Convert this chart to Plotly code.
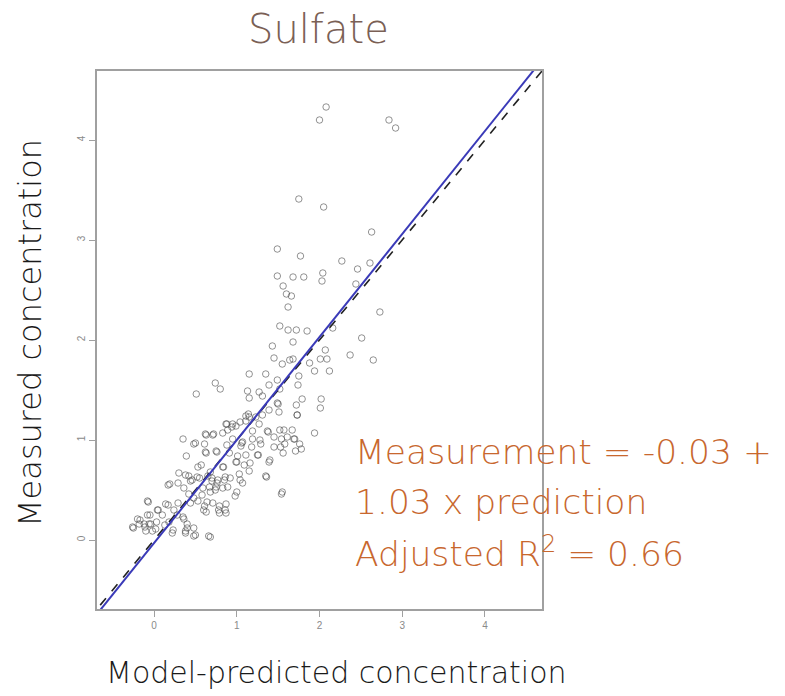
import plotly.graph_objects as go

# Model-predicted (x) and measured (y) sulfate concentrations
pred = [2.08, 2.00, 2.84, 2.92, 1.75, 2.05, 2.63, 1.49, 1.77, 2.27, 2.46, 2.61, 1.49, 1.68, 1.81, 2.04, 2.03,
        2.44, 1.56, 1.60, 1.66, 1.62, 2.73, 1.52, 1.62, 1.72, 1.85, 2.16, 1.68, 1.43, 2.51, 2.07, 1.45, 1.55,
        1.64, 1.68, 1.88, 2.01, 2.09, 2.37, 2.65, 1.15, 1.35, 1.75, 1.94, 2.12, 1.74, 0.74, 0.80, 0.51, 1.13,
        1.15, 1.27, 1.31, 1.39, 1.49, 1.52, 1.79, 1.72, 2.02, 2.01, 1.73, 1.49, 1.51, 1.39, 1.11, 1.15, 1.23,
        1.31, 1.11, 0.87, 0.95, 0.99, 0.89, 1.27, 1.19, 1.37, 1.52, 1.67, 1.94, 0.63, 0.71, 0.83, 0.35, 0.48,
        0.61, 0.95, 1.07, 1.05, 1.19, 1.29, 1.45, 1.54, 1.61, 1.70, 1.76, 1.78, 1.71, 0.75, 0.63, 0.39, 0.53,
        0.57, 0.91, 1.01, 1.11, 1.25, 1.39, 1.56, 1.45, 1.58, 0.83, 0.99, 1.09, 1.15, 1.03, 0.19, 0.30, 0.42,
        0.44, 0.55, 0.65, 0.70, 0.77, 0.85, 1.35, 1.54, 0.29, 0.36, 0.42, 0.59, 0.67, 0.75, 0.83, 0.89, 0.98,
        1.07, -0.08, 0.04, 0.14, 0.24, 0.28, 0.44, 0.53, 0.61, 0.63, 0.71, 0.79, 0.87, -0.26, -0.20, -0.18,
        -0.08, -0.06, -0.02, -0.04, 0.10, 0.18, 0.36, 0.40, 0.38, 0.48, 0.22, 0.38, 0.48, 0.66, 0.79, 0.87,
        -0.10, 0.02, -0.12,
        -0.07, 0.17, 0.05, -0.05, -0.17, -0.25, -0.11, 0.03, 0.17, 0.29, 0.35, 0.40, 0.50, 0.68, 0.38, 0.46,
        0.60, 0.64, 0.74, 0.78, 0.86, 0.86, 0.70, 0.58, 0.48, 0.23, 0.13,
        0.62, 0.72, 0.88, 0.94, 1.04, 1.14, 0.50, 0.62, 0.76, 0.88, 1.06, 1.18, 1.28, 1.38, 1.50, 1.73, 1.57,
        1.69, 1.53, 1.40, 1.26, 1.16, 1.00, 0.84, 0.68, 0.52, 0.76, 0.92, 1.04, 1.36, 1.55, 1.00, 0.68]
meas = [4.33, 4.20, 4.20, 4.12, 3.41, 3.33, 3.08, 2.91, 2.84, 2.79, 2.71, 2.77, 2.64, 2.63, 2.63, 2.67, 2.59,
        2.56, 2.54, 2.46, 2.44, 2.33, 2.28, 2.14, 2.10, 2.10, 2.09, 2.12, 1.98, 1.94, 2.02, 1.90, 1.82, 1.76,
        1.80, 1.81, 1.77, 1.81, 1.81, 1.85, 1.80, 1.66, 1.66, 1.64, 1.69, 1.69, 1.55, 1.57, 1.51, 1.46, 1.49,
        1.42, 1.48, 1.44, 1.55, 1.60, 1.51, 1.41, 1.35, 1.41, 1.32, 1.25, 1.37, 1.28, 1.30, 1.24, 1.23, 1.23,
        1.25, 1.19, 1.16, 1.16, 1.14, 1.10, 1.16, 1.09, 1.09, 1.10, 1.10, 1.07, 1.05, 1.05, 1.07, 1.01, 0.96,
        0.96, 1.01, 0.98, 0.94, 1.01, 0.96, 1.03, 1.01, 1.03, 1.01, 0.96, 0.91, 0.89, 0.89, 0.87, 0.84, 0.73,
        0.75, 0.87, 0.84, 0.85, 0.85, 0.78, 0.87, 0.93, 0.96, 0.73, 0.78, 0.75, 0.69, 0.66, 0.56, 0.67, 0.64,
        0.59, 0.62, 0.64, 0.59, 0.60, 0.60, 0.64, 0.46, 0.57, 0.52, 0.46, 0.52, 0.53, 0.53, 0.52, 0.53, 0.44,
        0.57, 0.39, 0.30, 0.36, 0.30, 0.25, 0.37, 0.39, 0.34, 0.28, 0.37, 0.34, 0.36, 0.13, 0.21, 0.16,
        0.25, 0.16, 0.09, 0.16, 0.25, 0.18, 0.21, 0.16, 0.09, 0.12, 0.07, 0.07, 0.04, 0.04, 0.27, 0.27,
        0.09, 0.11, 0.16,
        0.38, 0.55, 0.30, 0.25, 0.20, 0.12, 0.13, 0.18, 0.35, 0.37, 0.23, 0.12, 0.05, 0.03, 0.65, 0.60,
        0.30, 0.38, 0.50, 0.30, 0.30, 0.63, 0.62, 0.45, 0.42, 0.10, 0.15,
        1.06, 1.06, 1.16, 1.13, 1.18, 1.26, 0.97, 0.88, 0.88, 0.95, 0.97, 0.93, 1.00, 1.08, 1.36, 1.25, 1.10,
        1.01, 0.93, 0.80, 0.85, 0.77, 0.78, 0.73, 0.68, 0.63, 0.57, 0.62, 0.60, 0.63, 0.48, 0.48, 0.48]

intercept = -0.03
slope = 1.03
axis_range = [-0.69, 4.69]
tick_vals = [0, 1, 2, 3, 4]

title_text = "Sulfate"
x_title = "Model-predicted concentration"
y_title = "Measured concentration"
eq_lines = ["Measurement = -0.03 +", "1.03 x prediction", "Adjusted R<sup>2</sup> = 0.66"]

fig = go.Figure()
fig.add_trace(go.Scatter(
    x=pred, y=meas, mode="markers",
    marker=dict(symbol="circle-open", size=6.5, color="rgba(75,75,75,0.6)", line=dict(width=1)),
    showlegend=False, hoverinfo="skip"))

lx = [axis_range[0] - 0.1, axis_range[1] + 0.1]
fig.add_trace(go.Scatter(x=lx, y=lx, mode="lines",
                         line=dict(color="#222222", width=1.6, dash="dash"), showlegend=False))
fig.add_trace(go.Scatter(x=lx, y=[intercept + slope * v for v in lx], mode="lines",
                         line=dict(color="#3a3ab8", width=2), showlegend=False))

axis_common = dict(range=axis_range, tickvals=tick_vals, showgrid=False, zeroline=False,
                   showline=True, mirror=True, linecolor="#a0a0a0", linewidth=1.5,
                   ticks="outside", ticklen=6, tickcolor="#a0a0a0",
                   tickfont=dict(size=10, color="#8a8a8a", family="Liberation Sans"))
fig.update_xaxes(**axis_common)
fig.update_yaxes(**axis_common, tickangle=-90)

light = dict(family="DejaVu Sans", weight=200)
ann = []
ann.append(dict(text=title_text, xref="paper", yref="paper", x=(318 - 97) / 445, y=(609 - 29) / 538,
                showarrow=False, xanchor="center", yanchor="middle",
                font=dict(size=40, color="#7a6055", **light)))
ann.append(dict(text=x_title, xref="paper", yref="paper", x=(336 - 97) / 445, y=(609 - 672) / 538,
                showarrow=False, xanchor="center", yanchor="middle",
                font=dict(size=30, color="#1a1a1a", **light)))
ann.append(dict(text=y_title, xref="paper", yref="paper", x=(30 - 97) / 445, y=(609 - 333) / 538,
                showarrow=False, xanchor="center", yanchor="middle", textangle=-90,
                font=dict(size=32, color="#1a1a1a", **light)))
line_y = [452, 502, 552]
for t, py in zip(eq_lines, line_y):
    ann.append(dict(text=t, xref="paper", yref="paper", x=(353 - 97) / 445, y=(609 - py) / 538,
                    showarrow=False, xanchor="left", yanchor="middle",
                    font=dict(size=34.5, color="#c8672e", **light)))

fig.update_layout(width=785, height=696, margin=dict(l=97, r=243, t=71, b=87),
                  paper_bgcolor="white", plot_bgcolor="white", annotations=ann)

fig.write_html("out.html")
